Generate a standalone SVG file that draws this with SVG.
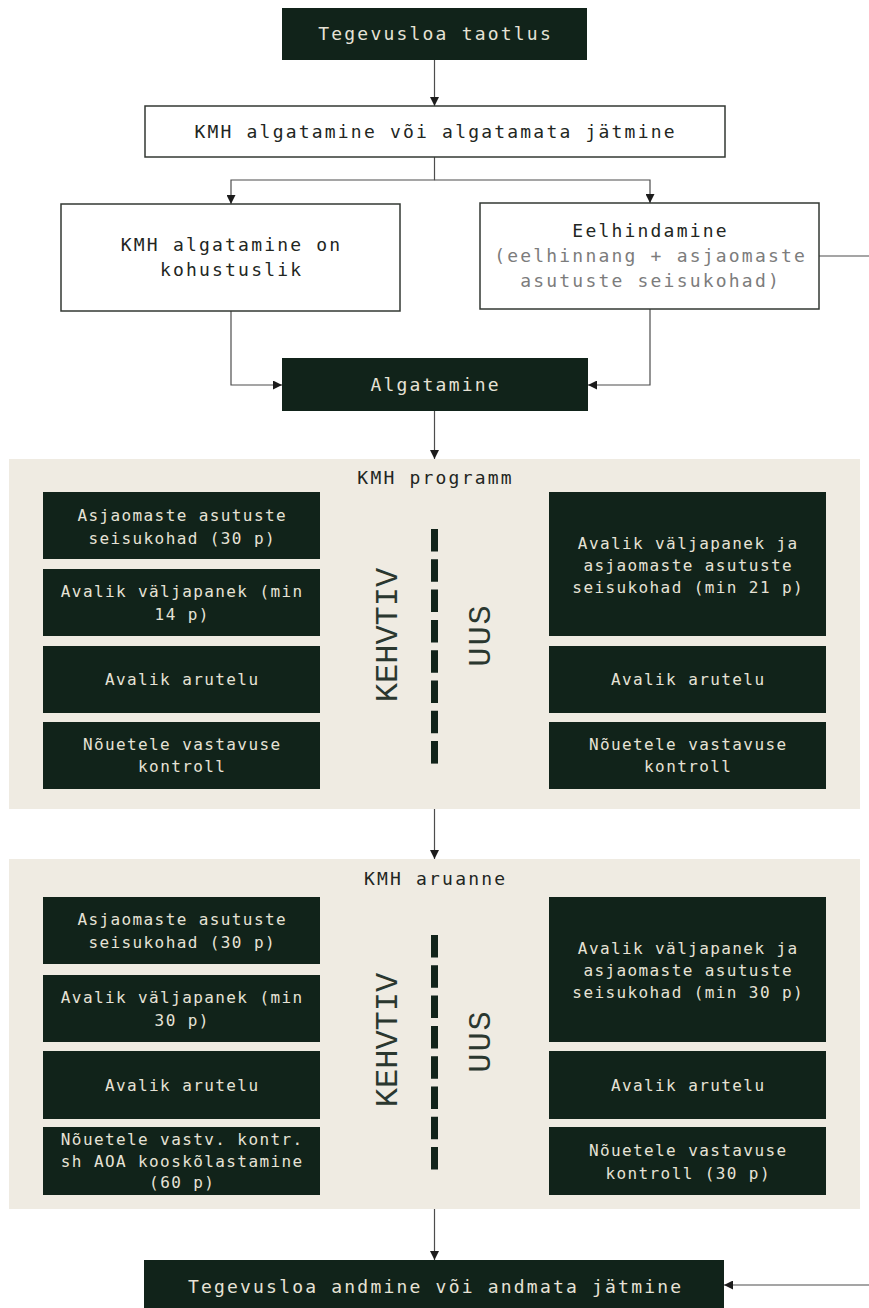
<svg xmlns="http://www.w3.org/2000/svg" width="869" height="1308" viewBox="0 0 869 1308">
<style>
.dark{fill:#11231a}
.white{fill:#ffffff;stroke:#333833;stroke-width:1.5}
.panel{fill:#efebe2}
.t1{font-family:"DejaVu Sans Mono","Liberation Mono",monospace;font-size:18px;letter-spacing:2.2px;text-anchor:middle}
.t2{font-family:"DejaVu Sans Mono","Liberation Mono",monospace;font-size:16px;letter-spacing:1.4px;text-anchor:middle}
.lt{fill:#e6e2d6}
.dk{fill:#222622}
.gr{fill:#7c7c7c}
.side{font-family:"Liberation Mono","DejaVu Sans Mono",monospace;font-size:32px;text-anchor:middle;fill:#2a372f}
.conn{fill:none;stroke:#4d4d4d;stroke-width:1.2}
.dash{stroke:#11231a;stroke-width:7;stroke-dasharray:22.5 7.8}
</style>
<defs>
<marker id="arr" markerWidth="9" markerHeight="9" refX="9" refY="4.5" orient="auto" markerUnits="userSpaceOnUse">
<path d="M0,0 L9,4.5 L0,9 z" fill="#1c1c1c"/>
</marker>
</defs>

<g id="connectors">
<path class="conn" d="M434.5 60 V106" marker-end="url(#arr)"/>
<path class="conn" d="M434.5 157 V180 H231 V204" marker-end="url(#arr)"/>
<path class="conn" d="M434.5 180 H650 V203" marker-end="url(#arr)"/>
<path class="conn" d="M231 311 V385 H282" marker-end="url(#arr)"/>
<path class="conn" d="M650 309 V385 H588" marker-end="url(#arr)"/>
<path class="conn" d="M819 256 H869"/>
<path class="conn" d="M434.5 411 V459" marker-end="url(#arr)"/>
<path class="conn" d="M434.5 809 V859" marker-end="url(#arr)"/>
<path class="conn" d="M434.5 1209 V1260" marker-end="url(#arr)"/>
<path class="conn" d="M869 1285 H724" marker-end="url(#arr)"/>
</g>

<g id="n-taotlus">
<rect class="dark" x="282" y="8" width="305" height="52"/>
<text class="t1 lt" x="435.6" y="40">Tegevusloa taotlus</text>
</g>

<g id="n-algatamine-voi">
<rect class="white" x="145" y="106" width="580" height="51"/>
<text class="t1 dk" x="435.6" y="138">KMH algatamine või algatamata jätmine</text>
</g>

<g id="n-kohustuslik">
<rect class="white" x="61" y="204" width="339" height="107"/>
<text class="t1 dk" x="231.6" y="251">KMH algatamine on</text>
<text class="t1 dk" x="231.6" y="276">kohustuslik</text>
</g>

<g id="n-eelhindamine">
<rect class="white" x="480" y="203" width="339" height="106"/>
<text class="t1 dk" x="650.6" y="237">Eelhindamine</text>
<text class="t1 gr" x="650.6" y="262">(eelhinnang + asjaomaste</text>
<text class="t1 gr" x="650.6" y="287">asutuste seisukohad)</text>
</g>

<g id="n-algatamine">
<rect class="dark" x="282" y="358" width="306" height="53"/>
<text class="t1 lt" x="435.6" y="391">Algatamine</text>
</g>

<g id="n-programm">
<rect class="panel" x="9" y="459" width="851" height="350"/>
<text class="t1 dk" x="435.6" y="484">KMH programm</text>
<line class="dash" x1="434.5" y1="529" x2="434.5" y2="765"/>
<text class="side" transform="translate(386 635) rotate(-90)" x="0" y="11">KEHVTIV</text>
<text class="side" transform="translate(480 636) rotate(-90)" x="1" y="10" style="letter-spacing:2px">UUS</text>
<g id="p1-l1"><rect class="dark" x="43" y="492" width="277" height="67"/>
<text class="t2 lt" x="182.2" y="521">Asjaomaste asutuste</text>
<text class="t2 lt" x="182.2" y="544">seisukohad (30 p)</text></g>
<g id="p1-l2"><rect class="dark" x="43" y="569" width="277" height="67"/>
<text class="t2 lt" x="182.2" y="597">Avalik väljapanek (min</text>
<text class="t2 lt" x="182.2" y="620">14 p)</text></g>
<g id="p1-l3"><rect class="dark" x="43" y="646" width="277" height="67"/>
<text class="t2 lt" x="182.2" y="685">Avalik arutelu</text></g>
<g id="p1-l4"><rect class="dark" x="43" y="722" width="277" height="67"/>
<text class="t2 lt" x="182.2" y="750">Nõuetele vastavuse</text>
<text class="t2 lt" x="182.2" y="772">kontroll</text></g>
<g id="p1-r1"><rect class="dark" x="549" y="492" width="277" height="144"/>
<text class="t2 lt" x="688.2" y="549">Avalik väljapanek ja</text>
<text class="t2 lt" x="688.2" y="571">asjaomaste asutuste</text>
<text class="t2 lt" x="688.2" y="593">seisukohad (min 21 p)</text></g>
<g id="p1-r2"><rect class="dark" x="549" y="646" width="277" height="67"/>
<text class="t2 lt" x="688.2" y="685">Avalik arutelu</text></g>
<g id="p1-r3"><rect class="dark" x="549" y="722" width="277" height="67"/>
<text class="t2 lt" x="688.2" y="750">Nõuetele vastavuse</text>
<text class="t2 lt" x="688.2" y="772">kontroll</text></g>
</g>

<g id="n-aruanne">
<rect class="panel" x="9" y="859" width="851" height="350"/>
<text class="t1 dk" x="435.6" y="885">KMH aruanne</text>
<line class="dash" x1="434.5" y1="935" x2="434.5" y2="1170"/>
<text class="side" transform="translate(386 1040) rotate(-90)" x="0" y="11">KEHVTIV</text>
<text class="side" transform="translate(480 1042) rotate(-90)" x="1" y="10" style="letter-spacing:2px">UUS</text>
<g id="p2-l1"><rect class="dark" x="43" y="897" width="277" height="67"/>
<text class="t2 lt" x="182.2" y="925">Asjaomaste asutuste</text>
<text class="t2 lt" x="182.2" y="948">seisukohad (30 p)</text></g>
<g id="p2-l2"><rect class="dark" x="43" y="975" width="277" height="67"/>
<text class="t2 lt" x="182.2" y="1003">Avalik väljapanek (min</text>
<text class="t2 lt" x="182.2" y="1026">30 p)</text></g>
<g id="p2-l3"><rect class="dark" x="43" y="1051" width="277" height="68"/>
<text class="t2 lt" x="182.2" y="1090.5">Avalik arutelu</text></g>
<g id="p2-l4"><rect class="dark" x="43" y="1127" width="277" height="68"/>
<text class="t2 lt" x="182.2" y="1145">Nõuetele vastv. kontr.</text>
<text class="t2 lt" x="182.2" y="1166.5">sh AOA kooskõlastamine</text>
<text class="t2 lt" x="182.2" y="1188">(60 p)</text></g>
<g id="p2-r1"><rect class="dark" x="549" y="897" width="277" height="145"/>
<text class="t2 lt" x="688.2" y="953.5">Avalik väljapanek ja</text>
<text class="t2 lt" x="688.2" y="975.5">asjaomaste asutuste</text>
<text class="t2 lt" x="688.2" y="997.5">seisukohad (min 30 p)</text></g>
<g id="p2-r2"><rect class="dark" x="549" y="1051" width="277" height="68"/>
<text class="t2 lt" x="688.2" y="1090.5">Avalik arutelu</text></g>
<g id="p2-r3"><rect class="dark" x="549" y="1127" width="277" height="68"/>
<text class="t2 lt" x="688.2" y="1156">Nõuetele vastavuse</text>
<text class="t2 lt" x="688.2" y="1178.5">kontroll (30 p)</text></g>
</g>

<g id="n-andmine">
<rect class="dark" x="144" y="1260" width="580" height="60"/>
<text class="t1 lt" x="435.6" y="1293">Tegevusloa andmine või andmata jätmine</text>
</g>
</svg>
